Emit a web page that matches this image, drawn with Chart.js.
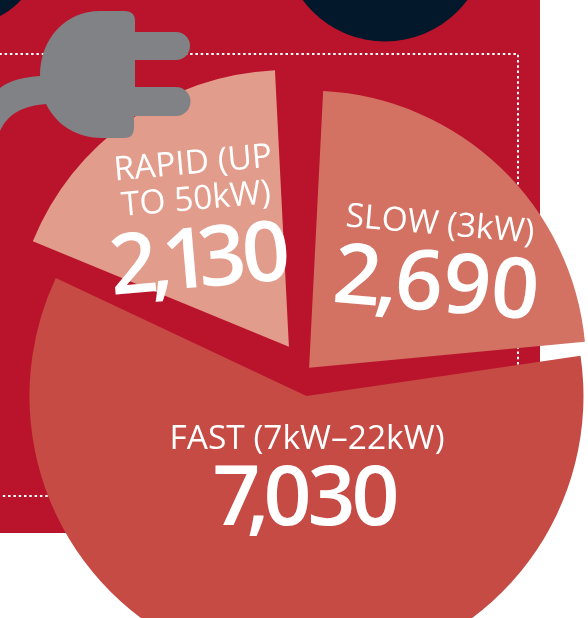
<!DOCTYPE html>
<html>
<head>
<meta charset="utf-8">
<style>
  html, body { margin: 0; padding: 0; background: #fff; overflow: hidden; }
  #wrap { position: relative; width: 588px; height: 618px; overflow: hidden; }
  canvas { position: absolute; left: 0; top: 0; }
</style>
<script src="https://cdn.jsdelivr.net/npm/chart.js@4"></script>
</head>
<body>
<div id="wrap"><canvas id="chart" width="612" height="742"></canvas></div>
<script>
const categories = ["RAPID (UP TO 50kW)", "SLOW (3kW)", "FAST (7kW–22kW)"];
const chargers = [2130, 2690, 7030];
const sliceColors = ["#e29c8b", "#d37263", "#c64b45"];

// the slices in the picture are pulled apart and slightly turned
const explode = [29.6, 4.5, 25];
const drift = [0, 0, -9.5];
const tilt = [0, 5.8, 2.8];

const labelFont = '"Open Sans"';
const labels = [
  { lines: [["RAPID (UP", 193, 164], ["TO 50kW)", 196, 200]], angle: -5, value: "2,130", x: 200, y: 263, gaps: [-8, -10, -12, -4] },
  { lines: [["SLOW (3kW)", 440, 225]], angle: 5, value: "2,690", x: 436, y: 287, gaps: [-6, -3, 0, 0] },
  { lines: [["FAST (7kW–22kW)", 307, 439]], angle: 0, value: "7,030", x: 306, y: 501, gaps: [-14, -6, -4, -4] }
];

const rad = (deg) => deg * Math.PI / 180;

const sliceShift = {
  id: "sliceShift",
  afterDatasetsUpdate(chart) {
    chart.getDatasetMeta(0).data.forEach((arc, i) => {
      const mid = (arc.startAngle + arc.endAngle) / 2 + rad(tilt[i] + drift[i]);
      arc.startAngle += rad(tilt[i]);
      arc.endAngle += rad(tilt[i]);
      arc.x += Math.cos(mid) * explode[i];
      arc.y += Math.sin(mid) * explode[i];
    });
  }
};

const backdrop = {
  id: "backdrop",
  beforeDatasetsDraw(chart) {
    const ctx = chart.ctx;
    ctx.save();
    ctx.fillStyle = "#ba142c";
    ctx.fillRect(0, 0, 540, 533);

    ctx.fillStyle = "#03182a";
    ctx.beginPath();
    ctx.arc(385, -61, 102.5, 0, Math.PI * 2);
    ctx.fill();
    ctx.beginPath();
    ctx.arc(-30, -45, 68, 0, Math.PI * 2);
    ctx.fill();

    ctx.strokeStyle = "#fff";
    ctx.lineWidth = 2;
    ctx.setLineDash([2.5, 2.8]);
    ctx.strokeRect(-6, 54, 524, 442);
    ctx.restore();
  }
};

const drawPlug = (ctx) => {
  ctx.fillStyle = "#808285";
  ctx.beginPath();
  ctx.moveTo(100, 11);
  ctx.lineTo(125, 11);
  ctx.quadraticCurveTo(135, 11, 135, 21);
  ctx.lineTo(135, 32);
  ctx.lineTo(176, 32);
  ctx.arc(176, 46, 14, -Math.PI / 2, Math.PI / 2);
  ctx.lineTo(135, 60);
  ctx.lineTo(135, 87);
  ctx.lineTo(176, 87);
  ctx.arc(176, 101.5, 14.5, -Math.PI / 2, Math.PI / 2);
  ctx.lineTo(134, 116);
  ctx.lineTo(134, 128);
  ctx.quadraticCurveTo(134, 138, 124, 138);
  ctx.lineTo(102, 138);
  ctx.bezierCurveTo(78, 138, 57, 126, 46, 104);
  ctx.bezierCurveTo(22, 106, 8, 114, 0, 131);
  ctx.lineTo(0, 88);
  ctx.bezierCurveTo(10, 80, 24, 77, 40, 76);
  ctx.bezierCurveTo(40, 38, 66, 11, 100, 11);
  ctx.closePath();
  ctx.fill();
};

const drawLine = (ctx, text, x, y, angle) => {
  ctx.save();
  ctx.translate(x, y);
  ctx.rotate(rad(angle));
  ctx.font = `400 33.5px ${labelFont}`;
  ctx.textAlign = "center";
  ctx.fillText(text, 0, 0);
  ctx.restore();
};

// the figures in the picture have tight proportional digits, so they are set one by one
const drawValue = (ctx, l) => {
  ctx.save();
  ctx.translate(l.x, l.y);
  ctx.rotate(rad(l.angle));
  ctx.font = `600 84px ${labelFont}`;
  ctx.textAlign = "left";
  const chars = [...l.value];
  const widths = chars.map((c) => ctx.measureText(c).width);
  const total = widths.reduce((a, b) => a + b, 0) + l.gaps.reduce((a, b) => a + b, 0);
  let x = -total / 2;
  chars.forEach((c, i) => {
    ctx.fillText(c, x, 0);
    x += widths[i] + (l.gaps[i] || 0);
  });
  ctx.restore();
};

const overlay = {
  id: "overlay",
  afterDatasetsDraw(chart) {
    const ctx = chart.ctx;
    ctx.save();
    drawPlug(ctx);
    ctx.fillStyle = "#fff";
    ctx.textBaseline = "middle";
    labels.forEach((l) => {
      l.lines.forEach(([text, x, y]) => drawLine(ctx, text, x, y, l.angle));
      drawValue(ctx, l);
    });
    ctx.restore();
  }
};

new Chart(document.getElementById("chart"), {
  type: "pie",
  data: {
    labels: categories,
    datasets: [{ data: chargers, backgroundColor: sliceColors, borderWidth: 0 }]
  },
  options: {
    responsive: false,
    animation: false,
    radius: 277,
    rotation: -67.6,
    plugins: { legend: { display: false }, tooltip: { enabled: false } }
  },
  plugins: [sliceShift, backdrop, overlay]
});
</script>
</body>
</html>
